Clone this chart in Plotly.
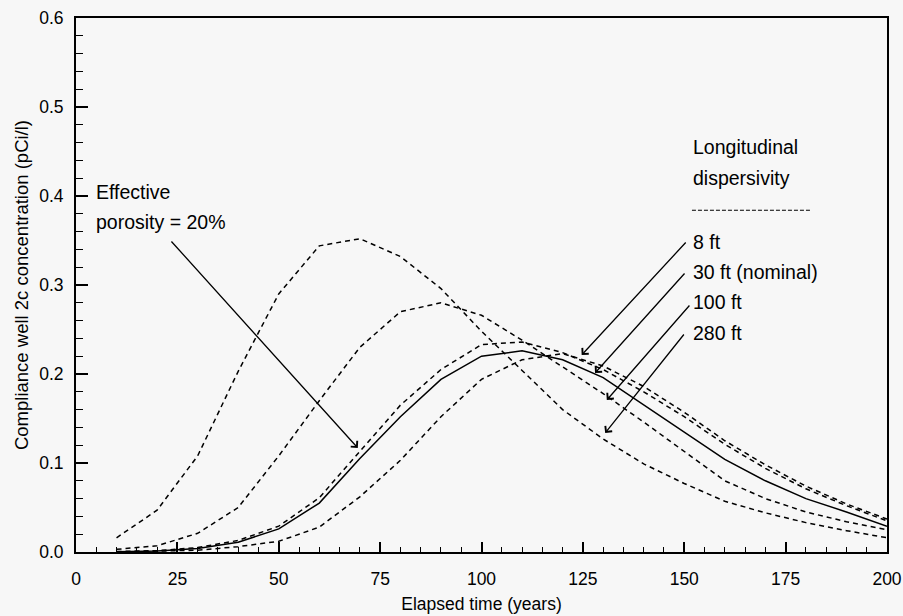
import plotly.graph_objects as go

# Elapsed time (years) at which concentrations were computed
years = [10, 20, 30, 40, 50, 60, 70, 80, 90, 100,
         110, 120, 130, 140, 150, 160, 170, 180, 190, 200]

# Compliance well 2c concentration (pCi/l) for each case
conc_280ft = [0.016, 0.047, 0.108, 0.203, 0.290, 0.344, 0.352, 0.332, 0.296, 0.248,
              0.204, 0.160, 0.127, 0.099, 0.077, 0.057, 0.044, 0.033, 0.024, 0.016]
conc_100ft = [0.003, 0.007, 0.021, 0.050, 0.108, 0.170, 0.230, 0.270, 0.280, 0.266,
              0.238, 0.208, 0.178, 0.146, 0.113, 0.080, 0.060, 0.045, 0.034, 0.025]
conc_30ft = [0.0003, 0.001, 0.004, 0.011, 0.026, 0.055, 0.105, 0.152, 0.194, 0.220,
             0.226, 0.216, 0.196, 0.165, 0.135, 0.104, 0.080, 0.060, 0.045, 0.029]
conc_por20 = [0.0005, 0.0015, 0.005, 0.013, 0.029, 0.061, 0.113, 0.165, 0.205, 0.233,
              0.236, 0.224, 0.205, 0.180, 0.152, 0.121, 0.094, 0.071, 0.052, 0.035]
conc_8ft = [0.0, 0.001, 0.002, 0.006, 0.012, 0.028, 0.062, 0.103, 0.152, 0.194,
            0.216, 0.223, 0.209, 0.186, 0.157, 0.125, 0.098, 0.074, 0.054, 0.037]

x_ticks = [0, 25, 50, 75, 100, 125, 150, 175, 200]
y_ticks = [0.0, 0.1, 0.2, 0.3, 0.4, 0.5, 0.6]

FONT = "Liberation Sans, Arial, sans-serif"
DASH = "5px,4px"

fig = go.Figure()
series = [
    ("280 ft", conc_280ft, DASH),
    ("100 ft", conc_100ft, DASH),
    ("Effective porosity = 20%", conc_por20, DASH),
    ("8 ft", conc_8ft, DASH),
    ("30 ft (nominal)", conc_30ft, "solid"),
]
for name, vals, dash in series:
    fig.add_trace(go.Scatter(
        x=years, y=vals, mode="lines", name=name,
        line=dict(color="black", width=1.5, dash=dash),
        showlegend=False,
    ))

# Text labels
def label(text, x, y, xanchor="left"):
    fig.add_annotation(x=x, y=y, xref="x", yref="y", text=text, showarrow=False,
                       xanchor=xanchor, yanchor="middle",
                       font=dict(family=FONT, size=19.5, color="black"))

label("Effective", 4.4, 0.4045)
label("porosity = 20%", 4.4, 0.3708)
label("Longitudinal", 151.6, 0.455)
label("dispersivity", 151.6, 0.420)
label("8 ft", 151.6, 0.348)
label("30 ft (nominal)", 151.6, 0.3146)
label("100 ft", 151.6, 0.281)
label("280 ft", 151.6, 0.246)

# Separator under the dispersivity heading
fig.add_shape(type="line", xref="x", yref="y", x0=151.9, x1=181.0, y0=0.384, y1=0.384,
              line=dict(color="black", width=1.2, dash="4px,2px"))

# Pointer arrows (tip, tail)
arrows = [
    ((69.5, 0.1169), (23.2, 0.3506)),
    ((124.7, 0.2213), (150.7, 0.3494)),
    ((128.0, 0.2011), (150.4, 0.3146)),
    ((130.9, 0.1708), (151.6, 0.2787)),
    ((130.5, 0.1337), (150.2, 0.2461)),
]
for (tx, ty), (sx, sy) in arrows:
    fig.add_annotation(x=tx, y=ty, ax=sx, ay=sy, xref="x", yref="y",
                       axref="x", ayref="y", text="", showarrow=True,
                       arrowhead=4, arrowsize=1.3, arrowwidth=1.3,
                       arrowcolor="black")

axis_common = dict(
    showgrid=False, zeroline=False, showline=True, linecolor="black",
    linewidth=2, mirror=True, ticks="inside", tickcolor="black",
    tickfont=dict(family=FONT, size=17.5, color="black"),
    automargin=False,
)

fig.update_xaxes(
    range=[0, 200], tickvals=x_ticks, ticklen=10, tickwidth=1.5,
    ticklabelstandoff=10,
    minor=dict(dtick=5, ticklen=5, tickcolor="black", ticks="inside", tickwidth=1),
    title=dict(text="Elapsed time (years)", font=dict(family=FONT, size=17.5, color="black"),
               standoff=10),
    **axis_common,
)
fig.update_yaxes(
    range=[0, 0.6], tickvals=y_ticks, tickformat=".1f", ticklen=12, tickwidth=1.5,
    ticklabelstandoff=7,
    minor=dict(dtick=0.02, ticklen=7, tickcolor="black", ticks="inside", tickwidth=1),
    title=dict(text="Compliance well 2c concentration (pCi/l)",
               font=dict(family=FONT, size=18.5, color="black"), standoff=6),
    **axis_common,
)

fig.update_layout(
    width=903, height=616,
    margin=dict(l=76, r=16, t=18, b=64),
    paper_bgcolor="#f7f7f7", plot_bgcolor="#f7f7f7",
    font=dict(family=FONT, color="black"),
)

fig.write_html("out.html")
